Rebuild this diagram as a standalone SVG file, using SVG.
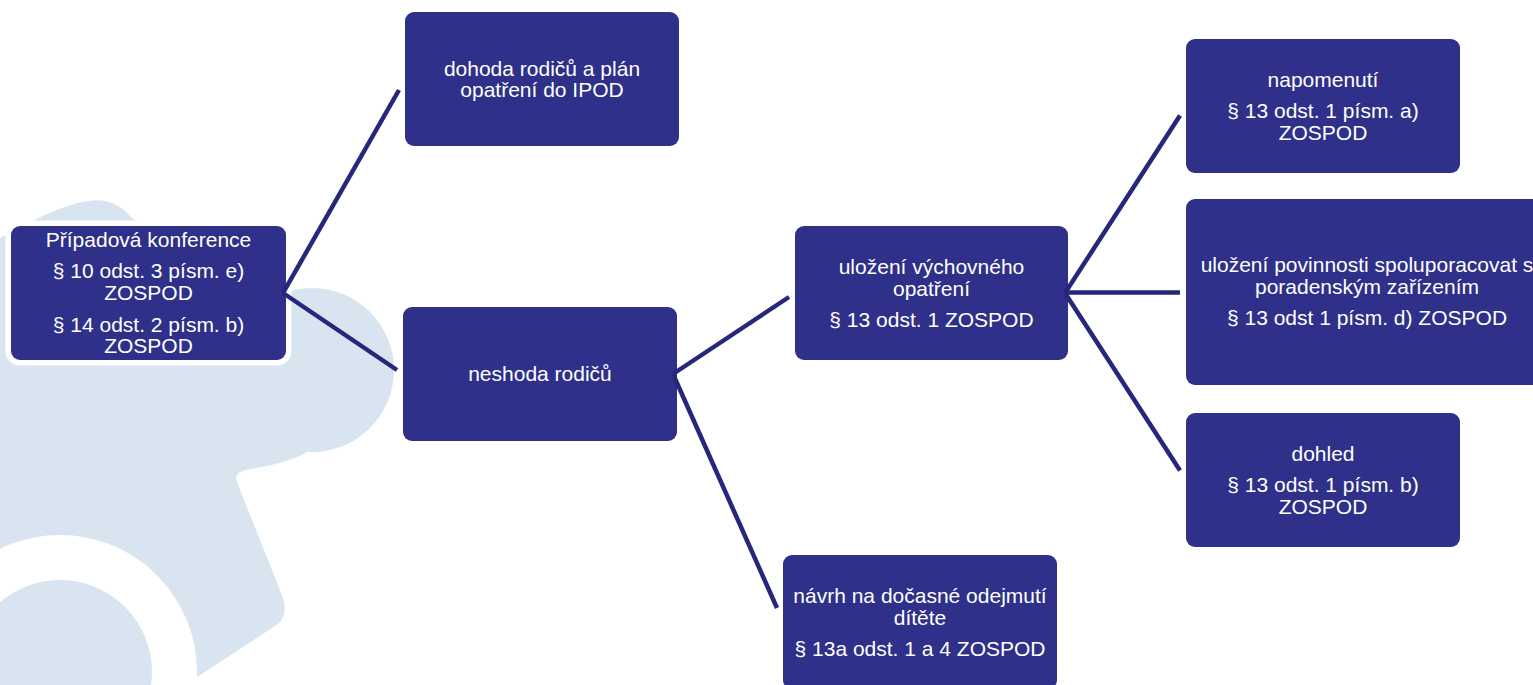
<svg xmlns="http://www.w3.org/2000/svg" width="1533" height="685" viewBox="0 0 1533 685">
<style>
.box{fill:#2e3089;stroke:#ffffff;stroke-width:11;paint-order:stroke}
.t{font-family:"Liberation Sans",Arial,sans-serif;font-size:21px;fill:#ffffff;text-anchor:middle}
.c{fill:none;stroke:#26277a;stroke-width:4.5;stroke-linecap:butt}
</style>
<rect x="0" y="0" width="1533" height="685" fill="#ffffff"/>
<g id="background">
<path fill="#d8e5f0" d="M0,238 C30,222 60,205 88,201 C108,198 122,206 132,218 L300,330 L325,440 Q300,462 250,469 Q233,472 237,482 L283,598 Q290,618 272,628 L185,685 L0,685 Z"/>
<circle cx="312" cy="370" r="82" fill="#d8e5f0"/>
<circle cx="60" cy="672" r="114.5" fill="none" stroke="#ffffff" stroke-width="45"/>
</g>
<g id="n1">
<rect class="box" x="11" y="226" width="275" height="134" rx="9"/>
<text class="t" x="148.5" y="247">Případová konference</text>
<text class="t" x="148.5" y="278">§ 10 odst. 3 písm. e)</text>
<text class="t" x="148.5" y="300">ZOSPOD</text>
<text class="t" x="148.5" y="331.5">§ 14 odst. 2 písm. b)</text>
<text class="t" x="148.5" y="352.5">ZOSPOD</text>
</g>
<g id="n2">
<rect class="box" x="405" y="12" width="274" height="134" rx="9"/>
<text class="t" x="542" y="75.5">dohoda rodičů a plán</text>
<text class="t" x="542" y="97">opatření do IPOD</text>
</g>
<g id="n3">
<rect class="box" x="403" y="307" width="274" height="134" rx="9"/>
<text class="t" x="540" y="381">neshoda rodičů</text>
</g>
<g id="n4">
<rect class="box" x="795" y="226" width="273" height="134" rx="9"/>
<text class="t" x="931.5" y="274">uložení výchovného</text>
<text class="t" x="931.5" y="295.5">opatření</text>
<text class="t" x="931.5" y="326.5">§ 13 odst. 1 ZOSPOD</text>
</g>
<g id="n5">
<rect class="box" x="783" y="555" width="274" height="134" rx="9"/>
<text class="t" x="920" y="603">návrh na dočasné odejmutí</text>
<text class="t" x="920" y="624.5">dítěte</text>
<text class="t" x="920" y="655.5">§ 13a odst. 1 a 4 ZOSPOD</text>
</g>
<g id="n6">
<rect class="box" x="1186" y="39" width="274" height="134" rx="9"/>
<text class="t" x="1323" y="87">napomenutí</text>
<text class="t" x="1323" y="118">§ 13 odst. 1 písm. a)</text>
<text class="t" x="1323" y="139.5">ZOSPOD</text>
</g>
<g id="n7">
<rect class="box" x="1186" y="199" width="362" height="186" rx="9"/>
<text class="t" x="1367" y="272">uložení povinnosti spoluporacovat s</text>
<text class="t" x="1367" y="293.5">poradenským zařízením</text>
<text class="t" x="1367" y="324.5">§ 13 odst 1 písm. d) ZOSPOD</text>
</g>
<g id="n8">
<rect class="box" x="1186" y="413" width="274" height="134" rx="9"/>
<text class="t" x="1323" y="461">dohled</text>
<text class="t" x="1323" y="492">§ 13 odst. 1 písm. b)</text>
<text class="t" x="1323" y="513.5">ZOSPOD</text>
</g>
<g id="connectors">
<path class="c" d="M283,293 L399,90"/>
<path class="c" d="M283,293 L397,370"/>
<path class="c" d="M673,374 L789,297"/>
<path class="c" d="M673,374 L777,608"/>
<path class="c" d="M1065,293 L1180,115.5"/>
<path class="c" d="M1065,292.5 L1180,292.5"/>
<path class="c" d="M1065,293 L1180,470.5"/>
</g>
</svg>
